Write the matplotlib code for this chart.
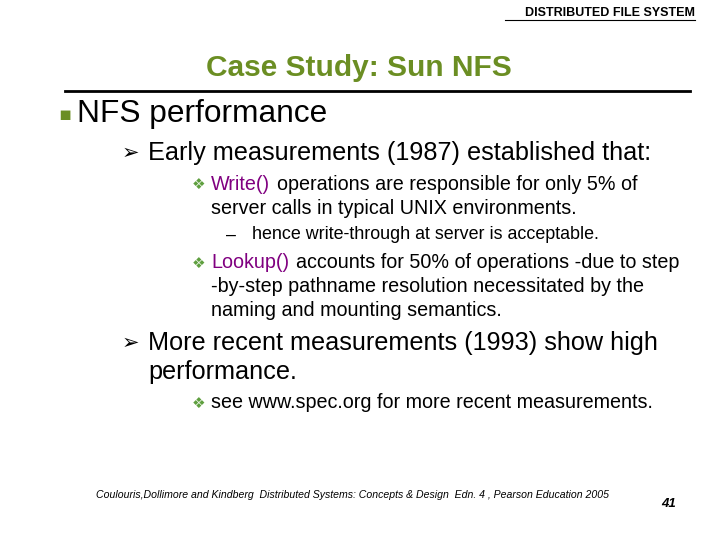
import matplotlib
matplotlib.use("Agg")
import matplotlib.pyplot as plt

FONT = "Liberation Sans"
header = "DISTRIBUTED FILE SYSTEM"
title = "Case Study: Sun NFS"
heading = "NFS performance"
level2 = ["Early measurements (1987) established that:",
          "More recent measurements (1993) show high", "performance."]
footer = "Coulouris,Dollimore and Kindberg  Distributed Systems: Concepts & Design  Edn. 4 , Pearson Education 2005"
page = "41"

fig = plt.figure(figsize=(7.2, 5.4), dpi=100)
W, H = 720, 540
def T(x, y, s, **kw):
    kw.setdefault("family", FONT)
    kw.setdefault("va", "center")
    return fig.text(x / W, 1 - y / H, s, **kw)
def L(x0, x1, y, lw, c="black"):
    fig.add_artist(plt.Line2D([x0 / W, x1 / W], [1 - y / H] * 2, lw=lw, color=c))

green = "#6b8e23"
purple = "#800080"
bgreen = "#5f9f3f"
S2, S3, S4 = 18.2, 14.2, 12.9

T(695, 13, header, size=9, weight="bold", ha="right")
L(505, 695, 20, 0.8)
T(359, 68, title, size=21.5, weight="bold", color=green, ha="center")
L(65, 690, 91, 2)
T(58, 114, "\u25aa", size=14, family="DejaVu Sans", color=green)
T(77, 114, heading, size=22.8)

T(122, 153, "\u27a2", size=15, family="DejaVu Sans")
T(148, 153, level2[0], size=S2)

T(192, 184, "\u2756", size=11, family="DejaVu Sans", color=bgreen)
T(211, 184, "Write()", size=S3, color=purple)
T(277, 184, "operations are responsible for only 5% of", size=S3)
T(211, 208, "server calls in typical UNIX environments.", size=S3)
T(226, 235, "\u2013", size=S4)
T(252, 235, "hence write-through at server is acceptable.", size=S4)

T(192, 263, "\u2756", size=11, family="DejaVu Sans", color=bgreen)
T(211, 263, "Lookup()", size=S3, color=purple)
T(296, 263, "accounts for 50% of operations -due to step", size=S3)
T(211, 287, "-by-step pathname resolution necessitated by the", size=S3)
T(211, 311, "naming and mounting semantics.", size=S3)

T(122, 343, "\u27a2", size=15, family="DejaVu Sans")
T(148, 343, level2[1], size=S2)
T(148, 372, level2[2], size=S2)

T(192, 403, "\u2756", size=11, family="DejaVu Sans", color=bgreen)
T(211, 403, "see www.spec.org for more recent measurements.", size=S3)

T(96, 495, footer, size=7.6, style="italic")
T(661, 504, page, size=9.5, weight="bold", style="italic")

fig.savefig("out.png", dpi=100)
